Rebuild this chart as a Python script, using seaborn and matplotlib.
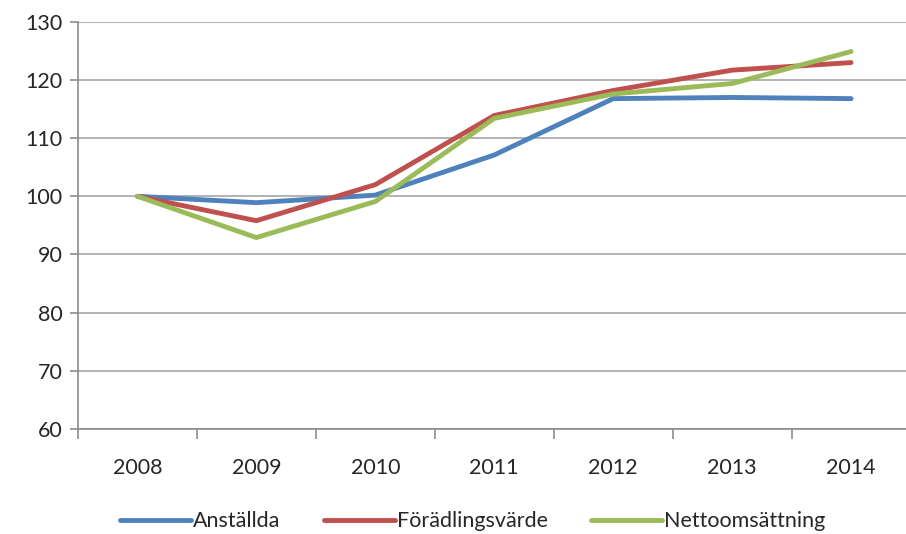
import matplotlib
matplotlib.use("Agg")
import matplotlib.pyplot as plt
import seaborn as sns
import pandas as pd
import numpy as np

# Data (index, 2008 = 100)
years = ["2008", "2009", "2010", "2011", "2012", "2013", "2014"]
anstallda = [100.0, 98.9, 100.2, 107.1, 116.8, 117.0, 116.8]
foradlingsvarde = [100.0, 95.8, 102.0, 113.9, 118.2, 121.7, 123.0]
nettoomsattning = [100.0, 92.9, 99.1, 113.4, 117.6, 119.4, 124.9]
series_names = ["Anställda", "Förädlingsvärde", "Nettoomsättning"]
colors = ["#4F81BD", "#C0504D", "#9BBB59"]

df = pd.DataFrame({"År": years,
                   series_names[0]: anstallda,
                   series_names[1]: foradlingsvarde,
                   series_names[2]: nettoomsattning})
long_df = df.melt(id_vars="År", var_name="Serie", value_name="Index")

sns.set_theme(style="white")
plt.rcParams["font.family"] = ["Lato", "DejaVu Sans"]

fig = plt.figure(figsize=(9.06, 5.34), dpi=100)
# plot area runs slightly past the right edge, as in the reference
ax = fig.add_axes([0.086, 0.197, 0.919, 0.762])

sns.lineplot(data=long_df, x="År", y="Index", hue="Serie", palette=colors,
             linewidth=3.5, ax=ax, sort=False, legend=True)

ax.set_ylim(60, 130)
ax.set_yticks(np.arange(60, 131, 10))
ax.set_xlim(-0.5, len(years) - 0.5)
ax.yaxis.grid(True, color="#A6A6A6", linewidth=1.2)
ax.set_axisbelow(True)

# tick marks between categories, labels at category centres
ax.set_xticks(np.arange(len(years)))
ax.set_xticklabels(years)
ax.set_xticks(np.arange(-0.5, len(years)), minor=True)
ax.tick_params(axis="x", which="major", length=0, pad=21, labelsize=15.5)
ax.tick_params(axis="x", which="minor", length=7, color="#8C8C8C", width=1.2,
               direction="out", bottom=True)
ax.tick_params(axis="y", length=6, color="#8C8C8C", width=1.2, direction="out",
               left=True, labelsize=15.5, pad=5)

for side in ["top", "right"]:
    ax.spines[side].set_visible(False)
for side in ["left", "bottom"]:
    ax.spines[side].set_color("#8C8C8C")
    ax.spines[side].set_linewidth(1.2)

ax.set_xlabel("")
ax.set_ylabel("")

handles, labels = ax.get_legend_handles_labels()
ax.legend(handles, labels, loc="upper center", bbox_to_anchor=(0.474, -0.155),
          ncol=3, frameon=False, fontsize=15.5, handlelength=3.3,
          handletextpad=0.1, columnspacing=2.0)

fig.savefig("out.png", dpi=100)
